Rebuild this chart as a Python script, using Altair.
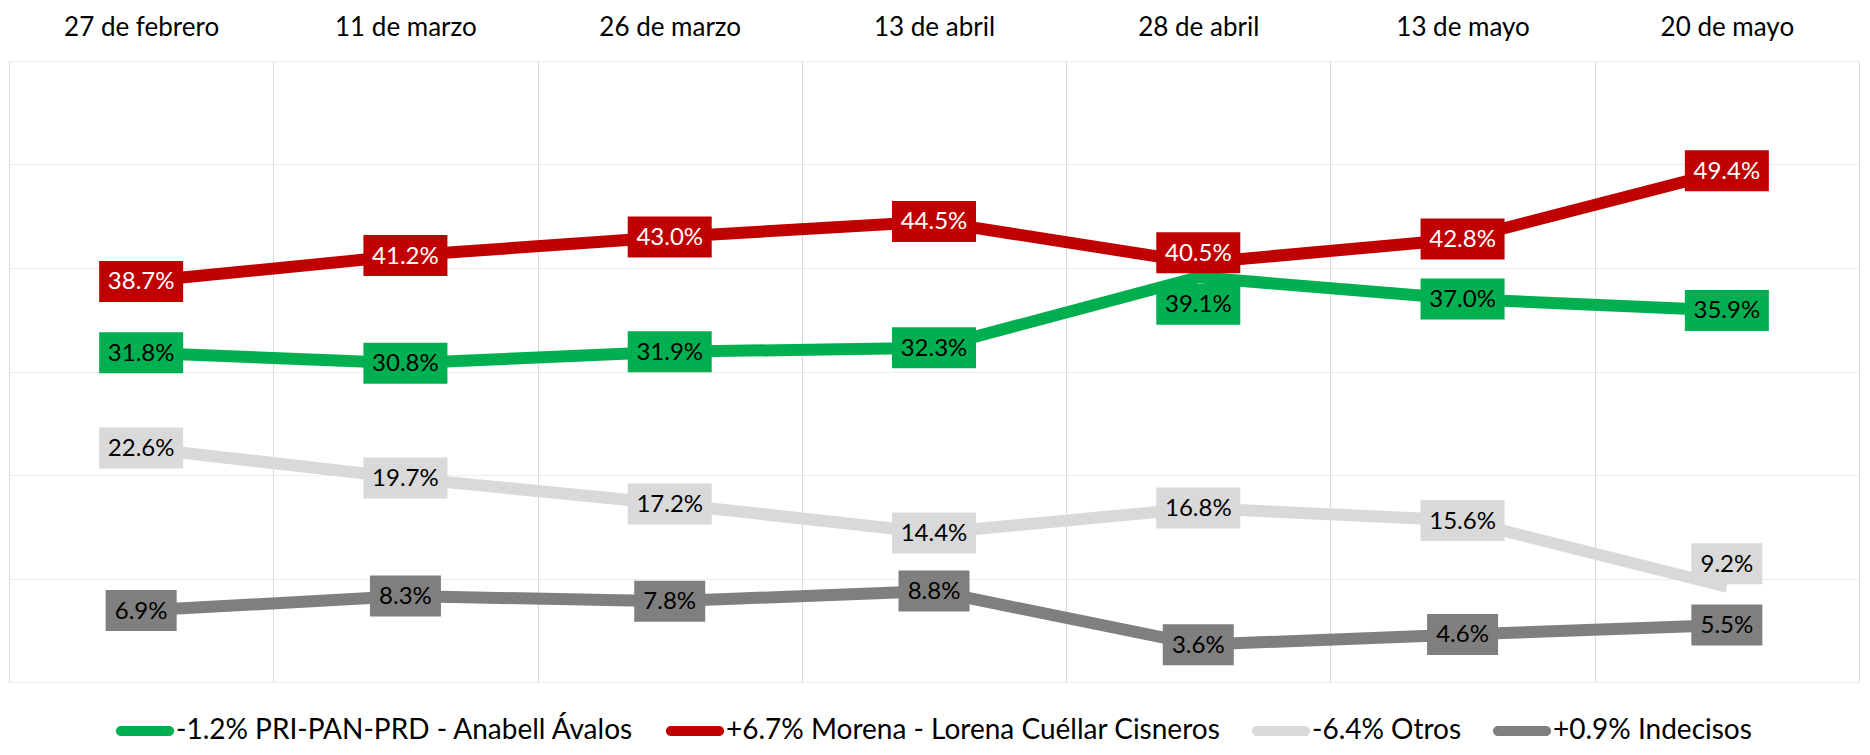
import altair as alt
import pandas as pd

# ---- data ----
dates = ["27 de febrero", "11 de marzo", "26 de marzo", "13 de abril",
         "28 de abril", "13 de mayo", "20 de mayo"]
series_names = ["-1.2% PRI-PAN-PRD - Anabell Ávalos",
                "+6.7% Morena - Lorena Cuéllar Cisneros",
                "-6.4% Otros",
                "+0.9% Indecisos"]
pri = [31.8, 30.8, 31.9, 32.3, 39.1, 37.0, 35.9]
morena = [38.7, 41.2, 43.0, 44.5, 40.5, 42.8, 49.4]
otros = [22.6, 19.7, 17.2, 14.4, 16.8, 15.6, 9.2]
indecisos = [6.9, 8.3, 7.8, 8.8, 3.6, 4.6, 5.5]

# ---- styling / layout ----
colors = ["#00B050", "#C00000", "#D9D9D9", "#7F7F7F"]
PLOT_W, PLOT_H = 1850, 621
Y_MAX = 60
# label nudges (pixels, positive = down) for labels moved off their point
label_nudge = {(0, 4): 27, (1, 4): -10, (2, 6): -23}

rows = []
for si, vals in enumerate([pri, morena, otros, indecisos]):
    for di, v in enumerate(vals):
        nudge = label_nudge.get((si, di), 0)
        rows.append({
            "series": series_names[si],
            "date": dates[di],
            "idx": di,
            "value": v,
            "label": f"{v:.1f}%",
            "label_y": v - nudge * Y_MAX / PLOT_H,
            "kind": "w" if v >= 10 else "n",
        })
df = pd.DataFrame(rows)

x_enc = alt.X(
    "date:N", sort=dates,
    scale=alt.Scale(type="band", paddingInner=0, paddingOuter=0),
    axis=alt.Axis(orient="top", title=None, tickBand="extent", grid=True,
                  gridColor="#d9d9d9", gridWidth=1, ticks=False, tickSize=0,
                  domain=False, labelFont="Lato", labelFontSize=26,
                  labelColor="#000000", labelAngle=0, labelPadding=26,
                  labelBaseline="alphabetic"),
)
y_scale = alt.Scale(domain=[0, Y_MAX], nice=False, zero=True)
y_axis = alt.Axis(values=[0, 10, 20, 30, 40, 50, 60], labels=False, ticks=False,
                  domain=False, title=None, grid=True, gridColor="#ececec")

color_scale = alt.Scale(domain=series_names, range=colors)

pill = ("M-0.83,-0.172 L0.83,-0.172 A0.172,0.172 0 0 1 0.83,0.172 "
        "L-0.83,0.172 A0.172,0.172 0 0 1 -0.83,-0.172 Z")
box_w = "M-0.84,-0.41 L0.84,-0.41 L0.84,0.41 L-0.84,0.41 Z"
box_n = "M-0.71,-0.41 L0.71,-0.41 L0.71,0.41 L-0.71,0.41 Z"

legend = alt.Legend(orient="none", legendX=107, legendY=641,
                    direction="horizontal", columns=4,
                    title=None, symbolType=pill,
                    symbolSize=3364, symbolStrokeWidth=0,
                    symbolOpacity=1,
                    labelFont="Lato", labelFontSize=28,
                    labelColor="#000000", labelLimit=900,
                    labelOffset=2, columnPadding=30,
                    padding=0)

base = alt.Chart(df)

lines = base.mark_line(strokeWidth=12, strokeJoin="round").encode(
    x=x_enc,
    y=alt.Y("value:Q", scale=y_scale, axis=y_axis),
    color=alt.Color("series:N", scale=color_scale, legend=None),
    order=alt.Order("idx:Q"),
)

boxes = base.mark_point(filled=True, opacity=1, size=10000, strokeWidth=0).encode(
    x=x_enc,
    y=alt.Y("label_y:Q", scale=y_scale, axis=y_axis),
    color=alt.Color("series:N", scale=color_scale, legend=legend),
    shape=alt.Shape("kind:N", scale=alt.Scale(domain=["w", "n"], range=[box_w, box_n]),
                    legend=None),
)

texts = base.mark_text(font="Lato", fontSize=24, baseline="middle",
                       align="center", dy=1).encode(
    x=x_enc,
    y=alt.Y("label_y:Q", scale=y_scale, axis=y_axis),
    text="label:N",
    color=alt.condition(f"datum.series === '{series_names[1]}'",
                        alt.value("#ffffff"), alt.value("#000000")),
)

chart = alt.layer(lines, boxes, texts).resolve_legend(
    color="independent"
).properties(
    width=PLOT_W, height=PLOT_H,
    autosize=alt.AutoSizeParams(type="none"),
    padding={"left": 1, "top": 53, "right": 3, "bottom": 64},
).configure_view(stroke="#d9d9d9", strokeWidth=1)

chart.save("out.html", embed_options={"renderer": "svg", "actions": False})
